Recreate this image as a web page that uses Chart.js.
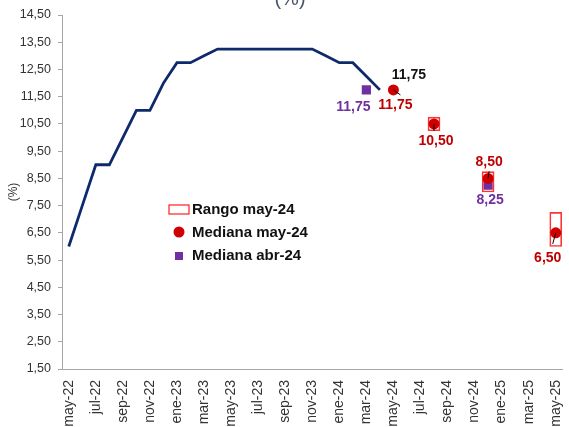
<!DOCTYPE html>
<html>
<head>
<meta charset="utf-8">
<script src="https://cdn.jsdelivr.net/npm/chart.js@4.4.1/dist/chart.umd.min.js"></script>
<style>
  html, body { margin: 0; padding: 0; background: #fff; }
  canvas { display: block; }
</style>
</head>
<body>
<canvas id="tasa-chart" width="569" height="427"></canvas>
<script>
// meses del eje x
var meses = ['may-22', 'jun-22', 'jul-22', 'ago-22', 'sep-22', 'oct-22', 'nov-22', 'dic-22',
    'ene-23', 'feb-23', 'mar-23', 'abr-23', 'may-23', 'jun-23', 'jul-23', 'ago-23', 'sep-23', 'oct-23', 'nov-23', 'dic-23',
    'ene-24', 'feb-24', 'mar-24', 'abr-24', 'may-24', 'jun-24', 'jul-24', 'ago-24', 'sep-24', 'oct-24', 'nov-24', 'dic-24',
    'ene-25', 'feb-25', 'mar-25', 'abr-25', 'may-25'];

// tasa de politica observada (may-22 a abr-24)
var tasaObservada = [6.00, 7.50, 9.00, 9.00, 10.00, 11.00, 11.00, 12.00,
    12.75, 12.75, 13.00, 13.25, 13.25, 13.25, 13.25, 13.25, 13.25, 13.25, 13.25, 13.00,
    12.75, 12.75, 12.25, 11.75];

// encuesta may-24
var rangoMeses = ['ago-24', 'dic-24', 'may-25'];
var rangoMin = [10.25, 8.00, 6.00];
var rangoMax = [10.75, 8.75, 7.25];

var medianaMayMeses = ['may-24', 'ago-24', 'dic-24', 'may-25'];
var medianaMay = [11.75, 10.50, 8.50, 6.50];

// encuesta abr-24
var medianaAbrMeses = ['mar-24', 'dic-24'];
var medianaAbr = [11.75, 8.25];

// eje y
var yMin = 1.5, yMax = 14.5, yPaso = 1;

function fmt(v) {
    return v.toFixed(2).replace('.', ',');
}

var colors = {
    line: '#0f2a6b',
    red: '#d00000',
    redLabel: '#c00000',
    box: '#ff3333',
    purple: '#7030a0',
    axis: '#a6a6a6',
    text: '#333333'
};

var fontFamily = '"Liberation Sans", Arial, sans-serif';

// desplazamientos de las etiquetas de datos y lineas guia (px)
var labelOffsets = {
    linea: [29, -15],
    may: [[2, 15], [2, 17], [1, -16], [-8, 25]],
    abr: [[-13, 17], [2, 15]]
};
var leaderOffsets = [[7, 5], [0, 7], [1, -7], [-3, 11]];

var dataLabels = {
    id: 'dataLabels',
    afterDatasetsDraw: function (chart) {
        var ctx = chart.ctx;
        var xs = chart.scales.x, ys = chart.scales.y;
        ctx.save();

        // lineas guia de la mediana may-24
        ctx.strokeStyle = '#000';
        ctx.lineWidth = 1;
        medianaMayMeses.forEach(function (m, i) {
            var x = xs.getPixelForValue(meses.indexOf(m));
            var y = ys.getPixelForValue(medianaMay[i]);
            ctx.beginPath();
            ctx.moveTo(x, y);
            ctx.lineTo(x + leaderOffsets[i][0], y + leaderOffsets[i][1]);
            ctx.stroke();
        });

        ctx.font = 'bold 14px ' + fontFamily;
        ctx.textAlign = 'center';
        ctx.textBaseline = 'middle';

        var lastIdx = tasaObservada.length - 1;
        ctx.fillStyle = '#111';
        ctx.fillText(fmt(tasaObservada[lastIdx]),
            xs.getPixelForValue(lastIdx) + labelOffsets.linea[0],
            ys.getPixelForValue(tasaObservada[lastIdx]) + labelOffsets.linea[1]);

        ctx.fillStyle = colors.redLabel;
        medianaMayMeses.forEach(function (m, i) {
            var x = xs.getPixelForValue(meses.indexOf(m));
            var y = ys.getPixelForValue(medianaMay[i]);
            ctx.fillText(fmt(medianaMay[i]), x + labelOffsets.may[i][0], y + labelOffsets.may[i][1]);
        });

        ctx.fillStyle = colors.purple;
        medianaAbrMeses.forEach(function (m, i) {
            var x = xs.getPixelForValue(meses.indexOf(m));
            var y = ys.getPixelForValue(medianaAbr[i]);
            ctx.fillText(fmt(medianaAbr[i]), x + labelOffsets.abr[i][0], y + labelOffsets.abr[i][1]);
        });

        // titulo recortado arriba
        ctx.font = '20px ' + fontFamily;
        ctx.fillStyle = '#44546a';
        ctx.textBaseline = 'alphabetic';
        ctx.fillText('(%)', 290, 5);
        ctx.restore();
    }
};

var legendBox = {
    id: 'legendBox',
    afterDraw: function (chart) {
        var ctx = chart.ctx;
        ctx.save();

        // cuadro del rango
        ctx.strokeStyle = '#ff2020';
        ctx.lineWidth = 1.2;
        ctx.strokeRect(169, 205, 20, 9);

        ctx.font = 'bold 15px ' + fontFamily;
        ctx.textBaseline = 'middle';
        ctx.textAlign = 'left';
        ctx.fillStyle = '#111';
        ctx.fillText('Rango may-24', 192, 210);

        ctx.fillStyle = colors.red;
        ctx.beginPath();
        ctx.arc(179, 232, 5.5, 0, Math.PI * 2);
        ctx.fill();
        ctx.fillStyle = '#111';
        ctx.fillText('Mediana may-24', 192, 233);

        ctx.fillStyle = colors.purple;
        ctx.fillRect(175, 252, 8, 8);
        ctx.fillStyle = '#111';
        ctx.fillText('Mediana abr-24', 192, 256);
        ctx.restore();
    }
};

var ctx = document.getElementById('tasa-chart').getContext('2d');
var chart = new Chart(ctx, {
    data: {
        labels: meses,
        datasets: [{
            type: 'line',
            label: 'Mediana may-24',
            data: medianaMayMeses.map(function (m, i) { return {x: m, y: medianaMay[i]}; }),
            showLine: false,
            pointRadius: 5.5,
            pointBackgroundColor: colors.red,
            pointBorderWidth: 0
        }, {
            type: 'line',
            label: 'Mediana abr-24',
            data: medianaAbrMeses.map(function (m, i) { return {x: m, y: medianaAbr[i]}; }),
            showLine: false,
            pointStyle: 'rect',
            pointRadius: 6.5,
            pointBackgroundColor: colors.purple,
            pointBorderWidth: 0
        }, {
            type: 'line',
            label: 'Tasa',
            data: tasaObservada,
            borderColor: colors.line,
            borderWidth: 2.8,
            pointRadius: 0,
            tension: 0,
            fill: false
        }, {
            type: 'bar',
            label: 'Rango may-24',
            data: rangoMeses.map(function (m, i) { return {x: m, y: [rangoMin[i], rangoMax[i]]}; }),
            backgroundColor: 'rgba(255,255,255,0)',
            borderColor: colors.box,
            borderWidth: 1,
            borderSkipped: false,
            barThickness: 12
        }]
    },
    options: {
        responsive: false,
        animation: false,
        layout: {padding: {top: 15, right: 1, left: 0, bottom: 0}},
        plugins: {
            legend: {display: false},
            tooltip: {enabled: false}
        },
        scales: {
            x: {
                offset: true,
                grid: {display: false},
                border: {color: colors.axis, width: 1},
                ticks: {
                    autoSkip: false,
                    minRotation: 90,
                    maxRotation: 90,
                    padding: 3,
                    color: colors.text,
                    font: {family: fontFamily, size: 14},
                    callback: function (v, i) { return i % 2 === 0 ? meses[i] : ''; }
                },
                afterFit: function (s) {
                    s.height = 58;
                    s.paddingLeft = 0;
                    s.paddingRight = 0;
                }
            },
            y: {
                min: yMin,
                max: yMax,
                grid: {drawOnChartArea: false, drawTicks: true, tickLength: 4, color: colors.axis},
                border: {color: colors.axis, width: 1},
                title: {
                    display: true,
                    text: '(%)',
                    color: colors.text,
                    padding: 6,
                    font: {family: fontFamily, size: 12}
                },
                ticks: {
                    stepSize: yPaso,
                    padding: 7,
                    color: colors.text,
                    font: {family: fontFamily, size: 12.5},
                    callback: function (v) { return fmt(v); }
                },
                afterFit: function (s) { s.width = 62; }
            }
        }
    },
    plugins: [dataLabels, legendBox]
});
</script>
</body>
</html>
